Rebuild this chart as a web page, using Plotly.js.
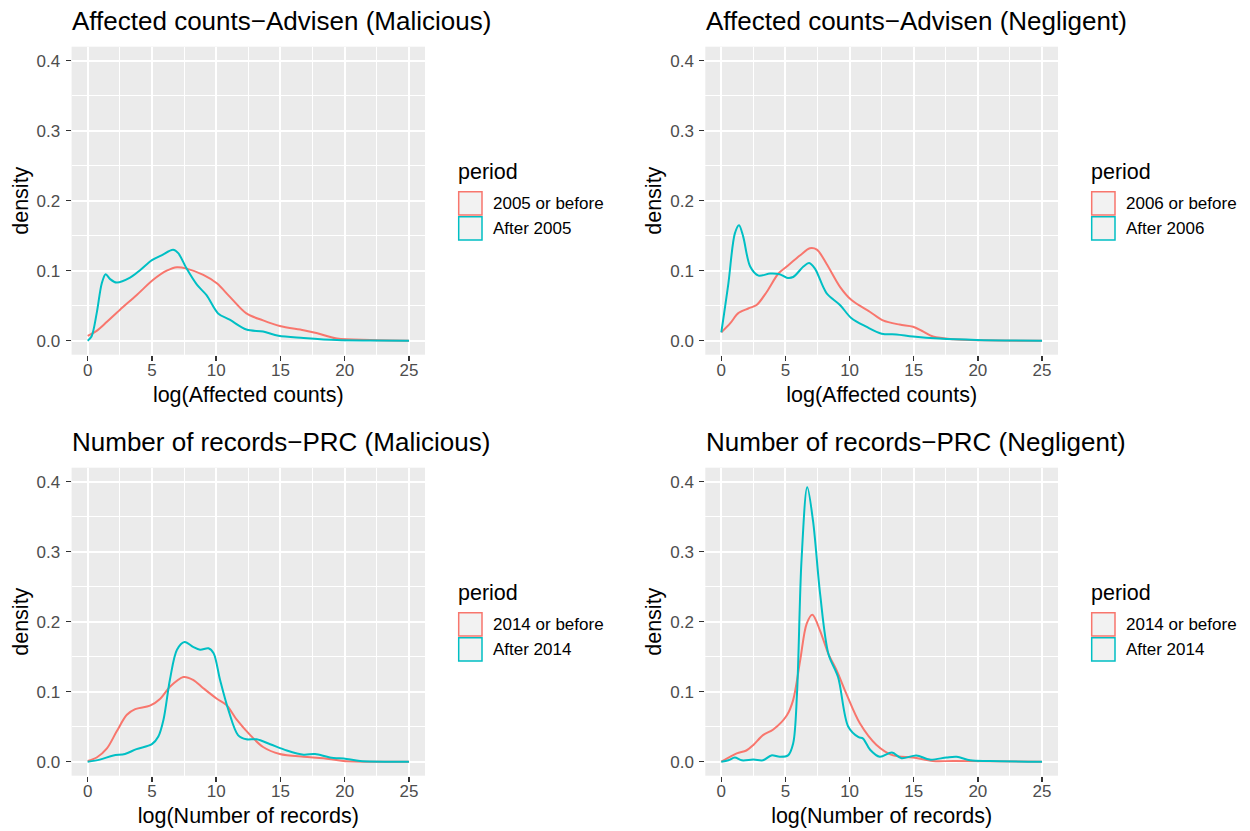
<!DOCTYPE html>
<html><head><meta charset="utf-8">
<script src="https://cdn.plot.ly/plotly-3.0.1.min.js"></script>
<style>html,body{margin:0;padding:0;background:#fff;} #chart{width:1250px;height:831px;}</style>
</head><body><div id="chart"></div>
<script>
// ---- text ----
const panelTitles = [
  "Affected counts\u2212Advisen (Malicious)",
  "Affected counts\u2212Advisen (Negligent)",
  "Number of records\u2212PRC (Malicious)",
  "Number of records\u2212PRC (Negligent)"
];
const xTitles = ["log(Affected counts)", "log(Affected counts)", "log(Number of records)", "log(Number of records)"];
const yTitle = "density";
const legendTitle = "period";
const legendLabels = [
  ["2005 or before", "After 2005"],
  ["2006 or before", "After 2006"],
  ["2014 or before", "After 2014"],
  ["2014 or before", "After 2014"]
];
const xTickVals = [0, 5, 10, 15, 20, 25];
const yTickVals = [0, 0.1, 0.2, 0.3, 0.4];

// ---- data ----
// Panel 1: Affected counts - Advisen (Malicious)
const p1BeforeX = [0, 0.7, 1.5, 2.5, 3.8, 5.1, 6.15, 6.95, 7.7, 9.0, 10.05, 11.05, 12.35, 13.65, 14.95, 16.8, 17.8, 19.4, 22, 25];
const p1BeforeY = [0.007, 0.014, 0.027, 0.044, 0.065, 0.087, 0.100, 0.105, 0.103, 0.094, 0.082, 0.063, 0.039, 0.029, 0.021, 0.015, 0.011, 0.003, 0.001, 0];
const p1AfterX = [0, 0.3, 0.7, 1.1, 1.4, 1.75, 2.25, 3.3, 4.1, 5.0, 5.75, 6.65, 7.05, 7.7, 8.5, 9.25, 10.15, 11.05, 12.35, 13.65, 14.85, 16.8, 19.4, 22, 25];
const p1AfterY = [0, 0.006, 0.039, 0.082, 0.095, 0.088, 0.083, 0.090, 0.101, 0.115, 0.122, 0.130, 0.125, 0.103, 0.080, 0.065, 0.039, 0.030, 0.016, 0.013, 0.007, 0.004, 0.001, 0.0003, 0];

// Panel 2: Affected counts - Advisen (Negligent)
const p2BeforeX = [0, 0.7, 1.3, 2.1, 2.75, 3.55, 4.45, 5.1, 6.15, 6.9, 7.45, 8.2, 9.25, 10.15, 11.6, 12.6, 13.9, 14.95, 15.75, 16.5, 18.1, 20.4, 25];
const p2BeforeY = [0.012, 0.025, 0.039, 0.046, 0.051, 0.070, 0.096, 0.106, 0.122, 0.132, 0.130, 0.110, 0.077, 0.058, 0.041, 0.029, 0.023, 0.020, 0.013, 0.006, 0.002, 0.0005, 0];
const p2AfterX = [0, 0.55, 1.05, 1.38, 1.7, 2.25, 2.9, 3.8, 4.55, 5.1, 5.6, 6.4, 6.85, 7.3, 8.2, 9.25, 10.15, 11.3, 12.5, 13.65, 14.95, 17.0, 19.9, 25];
const p2AfterY = [0.012, 0.082, 0.153, 0.165, 0.149, 0.106, 0.093, 0.096, 0.095, 0.090, 0.091, 0.106, 0.111, 0.103, 0.068, 0.051, 0.032, 0.020, 0.010, 0.009, 0.006, 0.003, 0.001, 0];

// Panel 3: Number of records - PRC (Malicious)
const p3BeforeX = [0, 0.7, 1.5, 2.25, 3.05, 3.7, 4.85, 5.65, 6.4, 7.45, 8.2, 9.0, 10.05, 10.8, 11.6, 12.65, 13.65, 14.95, 16.8, 18.35, 19.9, 25];
const p3BeforeY = [0.001, 0.006, 0.019, 0.043, 0.067, 0.075, 0.080, 0.090, 0.107, 0.121, 0.117, 0.105, 0.090, 0.081, 0.060, 0.038, 0.021, 0.011, 0.007, 0.005, 0.001, 0];
const p3AfterX = [0, 0.95, 2.0, 2.9, 3.8, 5.0, 5.5, 5.9, 6.4, 6.95, 7.55, 8.2, 8.75, 9.4, 9.8, 10.3, 10.95, 11.7, 12.35, 13.15, 14.2, 15.5, 16.8, 17.7, 18.85, 20.15, 21.2, 25];
const p3AfterY = [0, 0.003, 0.009, 0.011, 0.018, 0.025, 0.036, 0.060, 0.117, 0.160, 0.171, 0.164, 0.160, 0.162, 0.155, 0.117, 0.074, 0.038, 0.032, 0.032, 0.025, 0.016, 0.010, 0.011, 0.006, 0.004, 0.001, 0];

// Panel 4: Number of records - PRC (Negligent)
const p4BeforeX = [0, 1.2, 1.95, 2.5, 3.25, 4.05, 5.1, 5.6, 6.15, 6.65, 7.1, 7.7, 8.35, 9.0, 9.75, 10.8, 12.1, 13.4, 14.95, 16.5, 18.1, 25];
const p4BeforeY = [0, 0.012, 0.016, 0.024, 0.038, 0.046, 0.066, 0.088, 0.145, 0.197, 0.210, 0.187, 0.154, 0.130, 0.097, 0.055, 0.024, 0.009, 0.006, 0.001, 0.001, 0];
const p4AfterX = [0, 0.55, 1.05, 1.6, 2.5, 3.25, 3.9, 4.55, 5.2, 5.6, 5.9, 6.25, 6.7, 7.15, 7.7, 8.35, 9.1, 9.9, 10.7, 11.05, 11.6, 12.35, 13.3, 14.05, 15.2, 16.25, 17.55, 18.35, 19.4, 20.9, 25];
const p4AfterY = [0, 0.002, 0.006, 0.002, 0.003, 0.002, 0.009, 0.007, 0.009, 0.026, 0.097, 0.287, 0.392, 0.344, 0.240, 0.154, 0.121, 0.050, 0.035, 0.033, 0.017, 0.007, 0.013, 0.005, 0.009, 0.003, 0.006, 0.007, 0.002, 0.001, 0];

const seriesX = [[p1BeforeX, p1AfterX], [p2BeforeX, p2AfterX], [p3BeforeX, p3AfterX], [p4BeforeX, p4AfterX]];
const seriesY = [[p1BeforeY, p1AfterY], [p2BeforeY, p2AfterY], [p3BeforeY, p3AfterY], [p4BeforeY, p4AfterY]];

// ---- styling ----
const colors = ["#F8766D", "#00BFC4"];
const FONT = "Liberation Sans, Arial, Helvetica, sans-serif";
const W = 1250, H = 831;
// panel pixel boxes [left, right, top, bottom]
const panels = [
  [71.6, 425.0, 46.7, 354.7],
  [705.3, 1058.0, 46.7, 354.7],
  [71.6, 425.0, 467.7, 775.7],
  [705.3, 1058.0, 467.7, 775.7]
];
const px = v => v / W;
const py = v => 1 - v / H;

const traces = [];
const layout = {
  width: W, height: H, autosize: false,
  margin: {l: 0, r: 0, t: 0, b: 0},
  paper_bgcolor: "#FFFFFF",
  plot_bgcolor: "#EBEBEB",
  font: {family: FONT, color: "#000"},
  showlegend: false,
  annotations: [],
  shapes: []
};

for (let i = 0; i < 4; i++) {
  const sfx = i === 0 ? "" : String(i + 1);
  const xa = "x" + sfx, ya = "y" + sfx;
  for (let s = 0; s < 2; s++) {
    traces.push({
      type: "scatter", mode: "lines",
      x: seriesX[i][s], y: seriesY[i][s],
      xaxis: xa, yaxis: ya,
      name: legendLabels[i][s],
      line: {color: colors[s], width: 2, shape: "spline", smoothing: 0.9},
      hoverinfo: "x+y+name"
    });
  }
  const [L, R, T, B] = panels[i];
  layout["xaxis" + sfx] = {
    domain: [px(L), px(R)], anchor: ya,
    range: [-1.25, 26.25], tickvals: xTickVals, ticktext: xTickVals.map(String),
    showgrid: true, gridcolor: "#FFFFFF", gridwidth: 2,
    minor: {dtick: 2.5, tick0: 0, showgrid: true, gridcolor: "#FFFFFF", gridwidth: 1, ticks: ""},
    zeroline: false, showline: false,
    ticks: "outside", ticklen: 5, tickwidth: 1.5, tickcolor: "#333333",
    ticklabelstandoff: -5,
    tickfont: {family: FONT, size: 17, color: "#4D4D4D"},
    title: {text: xTitles[i], font: {family: FONT, size: 21.5, color: "#000"}, standoff: 7},
    fixedrange: true
  };
  layout["yaxis" + sfx] = {
    domain: [py(B), py(T)], anchor: xa,
    range: [-0.02, 0.42], tickvals: yTickVals, ticktext: yTickVals.map(v => v.toFixed(1)),
    showgrid: true, gridcolor: "#FFFFFF", gridwidth: 2,
    minor: {dtick: 0.05, tick0: 0, showgrid: true, gridcolor: "#FFFFFF", gridwidth: 1, ticks: ""},
    zeroline: false, showline: false,
    ticks: "outside", ticklen: 5, tickwidth: 1.5, tickcolor: "#333333",
    ticklabelstandoff: 2,
    tickfont: {family: FONT, size: 17, color: "#4D4D4D"},
    title: {text: yTitle, font: {family: FONT, size: 21.5, color: "#000"}, standoff: 2},
    fixedrange: true
  };
  // panel title
  layout.annotations.push({xref: "paper", yref: "paper", x: px(L - 1.5), y: py(T - 26),
    xanchor: "left", yanchor: "middle", showarrow: false, text: panelTitles[i],
    font: {family: FONT, size: 26, color: "#000"}});
  // legend
  const lgx = R + 33.7;
  layout.annotations.push({xref: "paper", yref: "paper", x: px(lgx - 3), y: py(T + 125.5),
    xanchor: "left", yanchor: "middle", showarrow: false, text: legendTitle,
    font: {family: FONT, size: 21.5, color: "#000"}});
  for (let s = 0; s < 2; s++) {
    const top = T + 145 + s * 25;
    layout.shapes.push({type: "rect", xref: "paper", yref: "paper",
      x0: px(lgx), x1: px(lgx + 23.3), y0: py(top + 23.3), y1: py(top),
      fillcolor: "#F2F2F2", line: {color: colors[s], width: 1.5}});
    layout.annotations.push({xref: "paper", yref: "paper", x: px(lgx + 32), y: py(top + 11.7),
      xanchor: "left", yanchor: "middle", showarrow: false, text: legendLabels[i][s],
      font: {family: FONT, size: 17, color: "#000"}});
  }
}

Plotly.newPlot("chart", traces, layout, {displayModeBar: false, staticPlot: true});
</script>
</body></html>
